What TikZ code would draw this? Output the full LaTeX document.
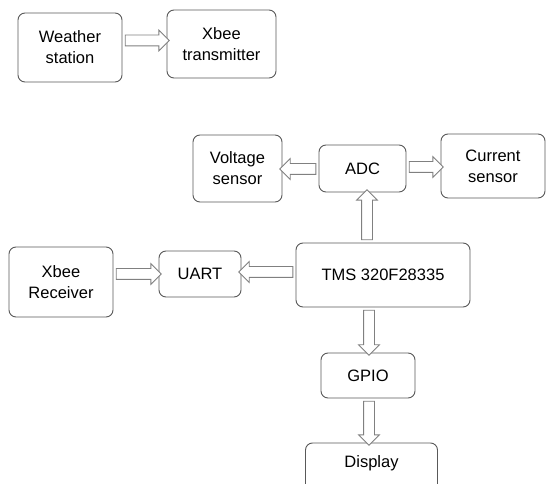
\documentclass[tikz,border=0pt]{standalone}
\usepackage{fontspec}
\setmainfont{Liberation Sans}
\usetikzlibrary{shapes.arrows,calc}
\newcommand{\blockarrow}[2]{\path let \p1=(#1), \p2=(#2), \n1={veclen(\x2-\x1,\y2-\y1)}, \n2={atan2(\y2-\y1,\x2-\x1)} in node[barrow, minimum height=\n1, rotate=\n2] at ($(\p1)!0.5!(\p2)$) {};}
\begin{document}
\begin{tikzpicture}[x=1pt,y=-1pt,
  box/.style={draw=black!65, line width=0.9pt, rounded corners=7pt, align=center,
    font=\fontsize{16.5}{21}\selectfont, inner sep=0pt},
  barrow/.style={single arrow, draw=black!50, line width=0.8pt, fill=white,
    inner xsep=0pt, inner ysep=5pt, single arrow head extend=5pt,
    single arrow head indent=0pt, single arrow tip angle=90}]
\clip (0,0) rectangle (547,484);
\fill[white] (0,0) rectangle (547,484);
\node[box, minimum width=104pt, minimum height=69pt] (ws) at (70,47.5) {Weather\\station};
\node[box, minimum width=109pt, minimum height=68pt] (xt) at (221.5,44) {Xbee\\transmitter};
\node[box, minimum width=89pt, minimum height=67pt] (vs) at (237.5,168.5) {Voltage\\sensor};
\node[box, minimum width=87pt, minimum height=47pt] (adc) at (362.5,168.5) {ADC};
\node[box, minimum width=104pt, minimum height=64pt] (cs) at (493,166) {Current\\sensor};
\node[box, minimum width=104pt, minimum height=70pt] (xr) at (61,282) {Xbee\\Receiver};
\node[box, minimum width=82pt, minimum height=46pt] (uart) at (200,274) {UART};
\node[box, minimum width=174pt, minimum height=64pt] (tms) at (383,275) {TMS 320F28335};
\node[box, minimum width=94pt, minimum height=45pt] (gpio) at (368,375.5) {GPIO};
\node[box, minimum width=132pt, minimum height=52pt, text depth=0pt] (disp) at (371.5,469) {};
\node[font=\fontsize{16.5}{21}\selectfont] (disptxt) at (371.5,463) {Display};
\coordinate (y1) at (0,40.5);
\coordinate (y2) at (0,169);
\coordinate (y3) at (0,167);
\coordinate (y4) at (0,274);
\coordinate (y5) at (0,272);
\coordinate (x1) at (367,0);
\coordinate (x2) at (369,0);
\blockarrow{ws.east |- y1}{xt.west |- y1}
\blockarrow{adc.west |- y2}{vs.east |- y2}
\blockarrow{adc.east |- y3}{cs.west |- y3}
\blockarrow{x1 |- tms.north}{x1 |- adc.south}
\blockarrow{xr.east |- y4}{uart.west |- y4}
\blockarrow{tms.west |- y5}{uart.east |- y5}
\blockarrow{x2 |- tms.south}{x2 |- gpio.north}
\blockarrow{x2 |- gpio.south}{x2 |- disp.north}
\end{tikzpicture}
\end{document}
